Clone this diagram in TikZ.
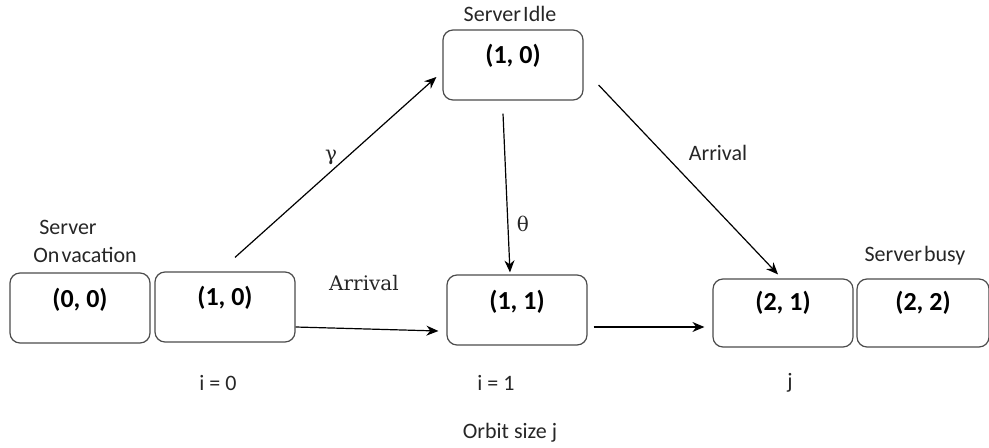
\documentclass[tikz,border=0pt]{standalone}
\usepackage{fontspec}
\setmainfont{Carlito}
\newfontfamily\rateface{DejaVu Serif}
\usetikzlibrary{arrows.meta}

\tikzset{
    statebox/.style={draw=black!70, line width=0.6pt, rounded corners=5pt,
        minimum width=70pt, inner xsep=0pt, inner ysep=0pt,
        text height=17pt, text depth=18pt, font=\fontsize{13}{15}\selectfont\bfseries},
    flow/.style={-{Stealth[length=6pt, width=5pt]}, line width=0.6pt},
    tag/.style={font=\fontsize{11}{13}\selectfont, text=black!85},
    rate/.style={font=\fontsize{10}{12}\selectfont\rateface, text=black!85}
}

\begin{document}
\begin{tikzpicture}[x=0.5pt, y=-0.5pt]
    \useasboundingbox (0,0) rectangle (989,448);

    % States
    \node[statebox] (vac) at (80,308) {(0, 0)};
    \node[statebox] (first) at (225,307) {(1, 0)};
    \node[statebox] (idle) at (513,65) {(1, 0)};
    \node[statebox] (one) at (517,310) {(1, 1)};
    \node[statebox, text height=16pt, text depth=18pt] (two) at (783,313) {(2, 1)};
    \node[statebox, text height=16pt, text depth=18pt, minimum width=66pt] (busy) at (923,313) {(2, 2)};

    % Transitions
    \draw[flow] ([shift={(10,-14)}]first.north) -- ([shift={(-6,12)}]idle.west);
    \draw[flow] ([shift={(-10,13)}]idle.south) -- ([shift={(-7,-2)}]one.north);
    \draw[flow] ([shift={(15,20)}]idle.east) -- ([shift={(-5,-4)}]two.north);
    \draw[flow] ([shift={(0,20)}]first.east) -- ([shift={(-8,21)}]one.west);
    \draw[flow] ([shift={(6,17)}]one.east) -- ([shift={(-8,14)}]two.west);

    % Rates
    \node[rate] (gam) at (331,157) {γ};
    \node[rate] (the) at (523,224) {θ};
    \node[tag] (arrtop) at (718,153) {Arrival};
    \node[rate] (arrlow) at (364,283) {Arrival};

    % Server states
    \node[tag] (srv) at (68,227) {Server};
    \node[tag] (vacation) at (85,255) {On\hspace{0.1em}vacation};
    \node[tag] (srvidle) at (510,14) {Server\hspace{0.1em}Idle};
    \node[tag] (srvbusy) at (915,256) {Server\hspace{0.1em}busy};

    % Levels
    \node[tag] (lvl0) at (218,383) {i = 0};
    \node[tag] (lvl1) at (496,383) {i = 1};
    \node[tag] (lvlj) at (790,383) {j};
    \node[tag] (orbit) at (510,433) {Orbit size j};
\end{tikzpicture}
\end{document}
